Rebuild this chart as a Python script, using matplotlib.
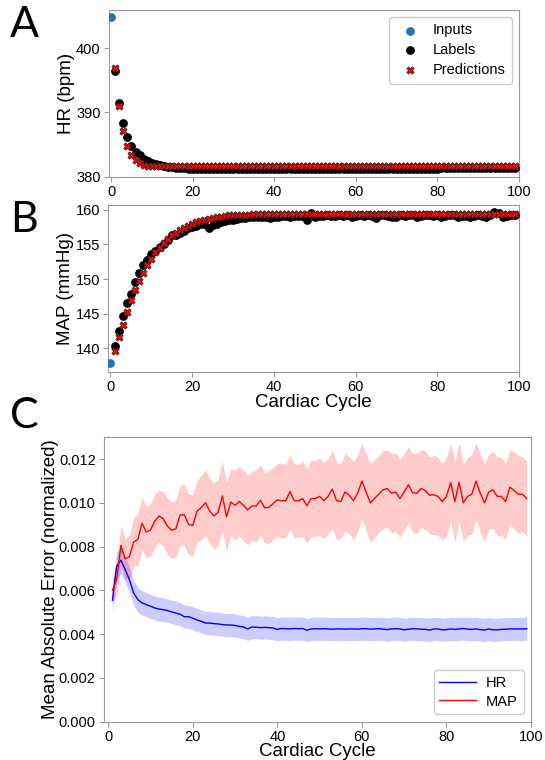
import matplotlib
matplotlib.use('Agg')
import matplotlib.pyplot as plt
import numpy as np

plt.rcParams['font.family'] = ['Liberation Sans', 'DejaVu Sans']

# ---- panel A / B data (cycle 0 = input, 1..99 = labels / predictions) ----
hr_input = 404.8
map_input = 137.8

hr_labels = [396.5, 391.5, 388.3, 386.2, 384.8, 383.9, 383.3, 382.8, 382.4, 382.1,
             381.9, 381.75, 381.65, 381.55, 381.45, 381.4, 381.35, 381.3, 381.25, 381.2,
             381.2, 381.2, 381.2, 381.2, 381.2, 381.2, 381.2, 381.2, 381.22, 381.22,
             381.22, 381.22, 381.22, 381.22, 381.22, 381.22, 381.24, 381.24, 381.24, 381.24,
             381.24, 381.24, 381.24, 381.24, 381.24, 381.24, 381.25, 381.25, 381.25, 381.25,
             381.25, 381.25, 381.25, 381.25, 381.25, 381.25, 381.25, 381.25, 381.25, 381.25,
             381.26, 381.26, 381.26, 381.26, 381.26, 381.26, 381.26, 381.26, 381.26, 381.26,
             381.27, 381.27, 381.27, 381.27, 381.27, 381.27, 381.27, 381.27, 381.27, 381.27,
             381.28, 381.28, 381.28, 381.28, 381.28, 381.28, 381.28, 381.28, 381.28, 381.28,
             381.28, 381.28, 381.28, 381.28, 381.28, 381.28, 381.28, 381.28, 381.28]
hr_preds = [396.9, 391.0, 387.1, 384.7, 383.4, 382.6, 382.1, 381.85, 381.72, 381.66,
            381.62, 381.6, 381.6, 381.6, 381.6, 381.6, 381.6, 381.6, 381.62, 381.62,
            381.62, 381.62, 381.63, 381.63, 381.63, 381.63, 381.64, 381.64, 381.64, 381.64,
            381.65, 381.65, 381.65, 381.65, 381.65, 381.65, 381.65, 381.65, 381.65, 381.65,
            381.65, 381.65, 381.65, 381.65, 381.65, 381.65, 381.65, 381.65, 381.65, 381.65,
            381.65, 381.65, 381.65, 381.65, 381.65, 381.65, 381.65, 381.65, 381.65, 381.65,
            381.65, 381.65, 381.65, 381.65, 381.65, 381.65, 381.65, 381.65, 381.65, 381.65,
            381.65, 381.65, 381.65, 381.65, 381.65, 381.65, 381.65, 381.65, 381.65, 381.65,
            381.65, 381.65, 381.65, 381.65, 381.65, 381.65, 381.65, 381.65, 381.65, 381.65,
            381.65, 381.65, 381.65, 381.65, 381.65, 381.65, 381.65, 381.65, 381.65]

map_labels = [140.3, 142.5, 144.6, 146.6, 147.8, 149.6, 150.8, 152.0, 152.8, 153.6,
              154.1, 154.6, 155.1, 155.7, 156.3, 156.4, 156.7, 157.0, 157.3, 157.5,
              157.7, 157.9, 158.0, 157.4, 157.8, 157.9, 158.3, 158.4, 158.5, 158.6,
              158.7, 158.8, 158.8, 158.9, 158.9, 159.0, 159.0, 159.0, 158.8, 159.0,
              159.0, 159.1, 159.1, 159.0, 159.1, 159.1, 159.1, 158.6, 159.6, 159.0,
              159.1, 159.1, 159.2, 159.1, 159.1, 159.2, 159.1, 159.2, 158.9, 159.1,
              159.2, 159.1, 159.2, 159.1, 158.8, 159.2, 159.3, 159.1, 159.0, 158.9,
              159.2, 159.1, 159.2, 159.2, 158.9, 159.1, 159.2, 159.2, 159.1, 159.2,
              159.0, 159.1, 159.2, 159.3, 159.0, 159.1, 159.1, 158.9, 159.1, 159.2,
              159.1, 159.0, 159.2, 159.7, 159.5, 158.9, 159.1, 159.2, 159.3]
map_preds = [139.6, 141.6, 143.4, 145.3, 146.9, 148.4, 149.7, 150.9, 152.0, 152.9,
             153.9, 154.5, 155.2, 155.8, 156.3, 156.7, 157.1, 157.4, 157.7, 157.9,
             158.2, 158.4, 158.6, 158.7, 158.8, 158.9, 159.0, 159.1, 159.2, 159.2,
             159.3, 159.3, 159.3, 159.3, 159.35, 159.35, 159.35, 159.35, 159.35, 159.35,
             159.4, 159.4, 159.4, 159.4, 159.4, 159.4, 159.4, 159.4, 159.4, 159.4,
             159.4, 159.4, 159.4, 159.4, 159.4, 159.4, 159.4, 159.4, 159.4, 159.4,
             159.4, 159.4, 159.4, 159.4, 159.4, 159.4, 159.4, 159.4, 159.4, 159.4,
             159.4, 159.4, 159.4, 159.4, 159.4, 159.4, 159.4, 159.4, 159.4, 159.4,
             159.4, 159.4, 159.4, 159.4, 159.4, 159.4, 159.4, 159.4, 159.4, 159.4,
             159.4, 159.4, 159.4, 159.4, 159.4, 159.4, 159.4, 159.4, 159.4]

# ---- panel C data (cycles 1..99) ----
hr_mae = [0.00555, 0.00711, 0.00738, 0.00696, 0.00650, 0.00589, 0.00558, 0.00543, 0.00535, 0.00528,
          0.00520, 0.00515, 0.00512, 0.00508, 0.00502, 0.00497, 0.00491, 0.00480, 0.00480, 0.00473,
          0.00465, 0.00459, 0.00451, 0.00451, 0.00448, 0.00447, 0.00444, 0.00442, 0.00442, 0.00440,
          0.00436, 0.00433, 0.00424, 0.00433, 0.00432, 0.00430, 0.00431, 0.00430, 0.00428, 0.00422,
          0.00426, 0.00425, 0.00424, 0.00426, 0.00425, 0.00426, 0.00418, 0.00424, 0.00425, 0.00424,
          0.00425, 0.00424, 0.00423, 0.00424, 0.00424, 0.00423, 0.00424, 0.00424, 0.00423, 0.00425,
          0.00425, 0.00423, 0.00424, 0.00425, 0.00423, 0.00421, 0.00424, 0.00425, 0.00424, 0.00420,
          0.00423, 0.00425, 0.00424, 0.00423, 0.00422, 0.00419, 0.00424, 0.00424, 0.00420, 0.00421,
          0.00424, 0.00422, 0.00424, 0.00426, 0.00423, 0.00422, 0.00424, 0.00421, 0.00419, 0.00424,
          0.00420, 0.00420, 0.00422, 0.00423, 0.00424, 0.00424, 0.00424, 0.00424, 0.00425]
hr_std = [0.00050, 0.00065, 0.00060, 0.00058, 0.00058, 0.00056, 0.00056, 0.00056, 0.00055, 0.00055,
          0.00055, 0.00055, 0.00054, 0.00054, 0.00054, 0.00054, 0.00053, 0.00053, 0.00053, 0.00053,
          0.00053, 0.00053, 0.00053, 0.00053, 0.00053, 0.00053, 0.00053, 0.00053, 0.00053, 0.00053,
          0.00053, 0.00053, 0.00053, 0.00053, 0.00053, 0.00053, 0.00053, 0.00053, 0.00053, 0.00053,
          0.00053, 0.00053, 0.00053, 0.00053, 0.00053, 0.00053, 0.00053, 0.00053, 0.00053, 0.00053,
          0.00053, 0.00053, 0.00053, 0.00053, 0.00053, 0.00053, 0.00053, 0.00053, 0.00053, 0.00053,
          0.00053, 0.00053, 0.00053, 0.00053, 0.00053, 0.00053, 0.00053, 0.00053, 0.00053, 0.00053,
          0.00053, 0.00053, 0.00053, 0.00053, 0.00053, 0.00054, 0.00053, 0.00053, 0.00053, 0.00053,
          0.00053, 0.00053, 0.00053, 0.00053, 0.00053, 0.00053, 0.00053, 0.00053, 0.00054, 0.00053,
          0.00053, 0.00053, 0.00053, 0.00053, 0.00053, 0.00053, 0.00053, 0.00053, 0.00054]
map_mae = [0.00601, 0.00650, 0.00806, 0.00745, 0.00754, 0.00821, 0.00833, 0.00907, 0.00867, 0.00876,
           0.00917, 0.00940, 0.00928, 0.00894, 0.00875, 0.00882, 0.00945, 0.00945, 0.00902, 0.00897,
           0.00963, 0.00978, 0.01001, 0.00963, 0.00940, 0.00958, 0.01032, 0.00937, 0.01004, 0.00989,
           0.01007, 0.00989, 0.00968, 0.00986, 0.00986, 0.01012, 0.00978, 0.00980, 0.00997, 0.01014,
           0.01010, 0.01010, 0.01052, 0.01010, 0.01010, 0.01020, 0.00987, 0.01020, 0.01020, 0.01030,
           0.01010, 0.01030, 0.01063, 0.01010, 0.01006, 0.01050, 0.01035, 0.01010, 0.01044, 0.01100,
           0.01050, 0.01000, 0.01020, 0.01040, 0.01060, 0.01066, 0.01044, 0.01050, 0.01020, 0.01050,
           0.01083, 0.01047, 0.01044, 0.01066, 0.01057, 0.01035, 0.01037, 0.01030, 0.01006, 0.01030,
           0.01093, 0.01006, 0.01095, 0.01000, 0.01030, 0.01040, 0.01100, 0.01044, 0.01000, 0.01050,
           0.01060, 0.01030, 0.01030, 0.01006, 0.01072, 0.01057, 0.01040, 0.01040, 0.01020]
map_std = [0.00060, 0.00075, 0.00090, 0.00092, 0.00100, 0.00110, 0.00118, 0.00120, 0.00118, 0.00120,
           0.00122, 0.00118, 0.00125, 0.00130, 0.00128, 0.00132, 0.00135, 0.00140, 0.00138, 0.00142,
           0.00140, 0.00146, 0.00150, 0.00148, 0.00152, 0.00150, 0.00160, 0.00158, 0.00152, 0.00160,
           0.00158, 0.00162, 0.00160, 0.00158, 0.00165, 0.00162, 0.00160, 0.00168, 0.00164, 0.00166,
           0.00170, 0.00168, 0.00172, 0.00170, 0.00166, 0.00174, 0.00170, 0.00176, 0.00172, 0.00178,
           0.00175, 0.00170, 0.00180, 0.00176, 0.00172, 0.00178, 0.00175, 0.00180, 0.00174, 0.00172,
           0.00176, 0.00182, 0.00178, 0.00174, 0.00180, 0.00176, 0.00182, 0.00178, 0.00180, 0.00175,
           0.00172, 0.00180, 0.00184, 0.00178, 0.00180, 0.00176, 0.00182, 0.00178, 0.00175, 0.00180,
           0.00176, 0.00185, 0.00180, 0.00176, 0.00178, 0.00182, 0.00175, 0.00180, 0.00178, 0.00172,
           0.00176, 0.00180, 0.00178, 0.00175, 0.00170, 0.00176, 0.00178, 0.00172, 0.00172]

cycles = np.arange(1, len(hr_labels) + 1)
c_cycles = np.arange(1, len(hr_mae) + 1)

TICK = 10.5
LAB = 13.5
SPINE = '#9a9a9a'

fig = plt.figure(figsize=(5.45, 7.6), dpi=100)
axA = fig.add_axes([0.200, 0.7675, 0.7523, 0.2200])
axB = fig.add_axes([0.199, 0.5109, 0.7533, 0.2194])
axC = fig.add_axes([0.1908, 0.0504, 0.7835, 0.3742])


def style(ax):
    for s in ax.spines.values():
        s.set_color(SPINE)
    ax.tick_params(colors=SPINE, labelcolor='black', labelsize=TICK, length=3.5, pad=2.5)


# A
axA.scatter([0], [hr_input], s=28, color='#1f77b4', label='Inputs', zorder=3)
axA.scatter(cycles, hr_labels, s=28, color='black', label='Labels', zorder=3)
axA.scatter(cycles, hr_preds, s=28, marker='X', color='red', edgecolors='#222222',
            linewidths=0.5, label='Predictions', zorder=4)
axA.set_xlim(-0.5, 100)
axA.set_ylim(380, 406)
axA.set_yticks([380, 390, 400])
axA.set_xticks(range(0, 101, 20))
axA.set_ylabel('HR (bpm)', fontsize=LAB, labelpad=1)
axA.legend(loc='upper right', fontsize=TICK, borderpad=0.45, labelspacing=0.4,
           handletextpad=0.5, framealpha=1.0)
style(axA)

# B
axB.scatter([0], [map_input], s=28, color='#1f77b4', zorder=3)
axB.scatter(cycles, map_labels, s=28, color='black', zorder=3)
axB.scatter(cycles, map_preds, s=28, marker='X', color='red', edgecolors='#222222',
            linewidths=0.5, zorder=4)
axB.set_xlim(-0.5, 100)
axB.set_ylim(136.6, 160.7)
axB.set_yticks([140, 145, 150, 155, 160])
axB.set_xticks(range(0, 101, 20))
axB.set_ylabel('MAP (mmHg)', fontsize=LAB, labelpad=1)
axB.set_xlabel('Cardiac Cycle', fontsize=LAB, labelpad=0)
style(axB)

# C
hr_mae_a = np.array(hr_mae)
hr_std_a = np.array(hr_std)
map_mae_a = np.array(map_mae)
map_std_a = np.array(map_std)
axC.fill_between(c_cycles, hr_mae_a - hr_std_a, hr_mae_a + hr_std_a, color='blue',
                 alpha=0.2, linewidth=0)
axC.fill_between(c_cycles, map_mae_a - map_std_a, map_mae_a + map_std_a, color='red',
                 alpha=0.2, linewidth=0)
axC.plot(c_cycles, hr_mae, color='blue', lw=1, label='HR')
axC.plot(c_cycles, map_mae, color='red', lw=1, label='MAP')
axC.set_xlim(-1, 100)
axC.set_ylim(0, 0.013)
axC.set_yticks(np.arange(0, 0.0121, 0.002))
axC.yaxis.set_major_formatter(matplotlib.ticker.FormatStrFormatter('%.3f'))
axC.set_xticks(range(0, 101, 20))
axC.set_ylabel('Mean Absolute Error (normalized)', fontsize=LAB, labelpad=0)
axC.set_xlabel('Cardiac Cycle', fontsize=LAB, labelpad=-1)
axC.legend(loc='lower right', fontsize=TICK, borderpad=0.4, labelspacing=0.3,
           handlelength=2.5, handletextpad=0.7, framealpha=1.0)
style(axC)

for letter, y in [('A', 0.992), ('B', 0.735), ('C', 0.478)]:
    fig.text(0.018, y, letter, fontsize=31, va='top', ha='left', family=['Lato', 'DejaVu Sans'])

fig.savefig('out.png', dpi=100)
